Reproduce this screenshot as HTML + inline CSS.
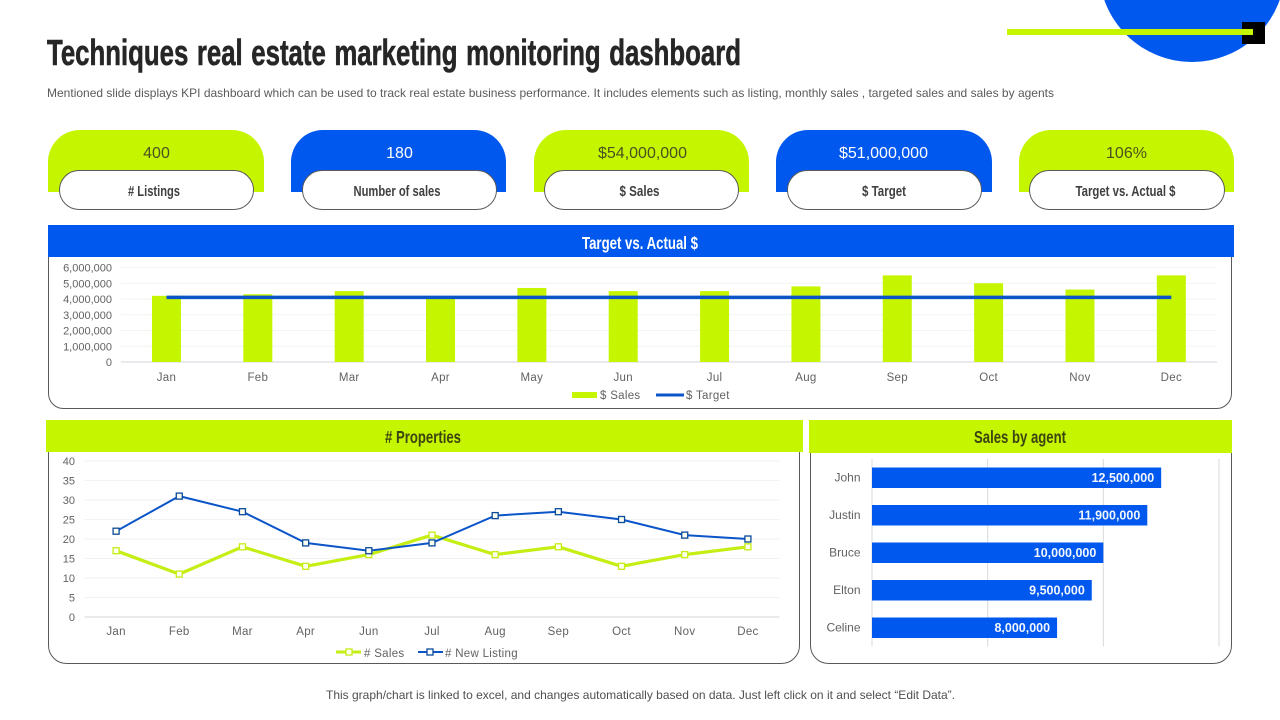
<!DOCTYPE html>
<html lang="en">
<head>
<meta charset="utf-8">
<title>Techniques real estate marketing monitoring dashboard</title>
<style>
html,body{margin:0;padding:0;background:#fff;width:1280px;height:720px;overflow:hidden}
svg{display:block;font-family:"Liberation Sans",Arial,sans-serif}
.cond{font-weight:bold;text-anchor:middle}
.tick{font-size:11.5px;fill:#626262;letter-spacing:.3px}
.ytick{font-size:11px;fill:#626262}
.val{font-size:16px;text-anchor:middle}
</style>
</head>
<body>
<svg id="dash" width="1280" height="720" viewBox="0 0 1280 720" xmlns="http://www.w3.org/2000/svg">
  <rect width="1280" height="720" fill="#fff"/>
  <circle cx="1192" cy="-31" r="93" fill="#0058ee"/>
  <rect x="1242" y="22" width="23" height="22" fill="#000"/>
  <rect x="1007" y="29" width="246" height="6" fill="#c6f500"/>

  <text x="47" y="65" font-size="36" font-weight="bold" fill="#262626" stroke="#262626" stroke-width=".6" word-spacing="2" textLength="694" lengthAdjust="spacingAndGlyphs">Techniques real estate marketing monitoring dashboard</text>
  <text x="47" y="97" font-size="12" fill="#5a5a5a" textLength="1007" lengthAdjust="spacingAndGlyphs">Mentioned slide displays KPI dashboard which can be used to track real estate business performance. It includes elements such as listing, monthly sales , targeted sales and sales by agents</text>

  <g>
    <path d="M48 192V162a32 32 0 0 1 32-32H232a32 32 0 0 1 32 32V192Z" fill="#c6f500"/>
    <text class="val" x="156.500" y="158" fill="#4a5220">400</text>
    <rect x="59.500" y="170.500" width="194" height="39" rx="19.500" fill="#fff" stroke="#595959"/>
    <text class="cond" x="154" y="196" font-size="15" fill="#404040" textLength="52" lengthAdjust="spacingAndGlyphs"># Listings</text>
  </g>
  <g>
    <path d="M291 192V162a32 32 0 0 1 32-32H474a32 32 0 0 1 32 32V192Z" fill="#0058ee"/>
    <text class="val" x="399.500" y="158" fill="#fff">180</text>
    <rect x="302.500" y="170.500" width="194" height="39" rx="19.500" fill="#fff" stroke="#595959"/>
    <text class="cond" x="397" y="196" font-size="15" fill="#404040" textLength="87" lengthAdjust="spacingAndGlyphs">Number of sales</text>
  </g>
  <g>
    <path d="M534 192V162a32 32 0 0 1 32-32H717a32 32 0 0 1 32 32V192Z" fill="#c6f500"/>
    <text class="val" x="642.500" y="158" fill="#4a5220">$54,000,000</text>
    <rect x="544.500" y="170.500" width="194" height="39" rx="19.500" fill="#fff" stroke="#595959"/>
    <text class="cond" x="639.500" y="196" font-size="15" fill="#404040" textLength="40" lengthAdjust="spacingAndGlyphs">$ Sales</text>
  </g>
  <g>
    <path d="M776 192V162a32 32 0 0 1 32-32H960a32 32 0 0 1 32 32V192Z" fill="#0058ee"/>
    <text class="val" x="883.500" y="158" fill="#fff">$51,000,000</text>
    <rect x="787.500" y="170.500" width="194" height="39" rx="19.500" fill="#fff" stroke="#595959"/>
    <text class="cond" x="884" y="196" font-size="15" fill="#404040" textLength="44" lengthAdjust="spacingAndGlyphs">$ Target</text>
  </g>
  <g>
    <path d="M1019 192V162a32 32 0 0 1 32-32H1202a32 32 0 0 1 32 32V192Z" fill="#c6f500"/>
    <text class="val" x="1126.500" y="158" fill="#4a5220">106%</text>
    <rect x="1029.500" y="170.500" width="195" height="39" rx="19.500" fill="#fff" stroke="#595959"/>
    <text class="cond" x="1125.500" y="196" font-size="15" fill="#404040" textLength="100" lengthAdjust="spacingAndGlyphs">Target vs. Actual $</text>
  </g>

  <rect x="48.500" y="235.500" width="1183" height="173" rx="15" fill="#fff" stroke="#595959"/>
  <rect x="48" y="225" width="1186" height="32" fill="#0058ee"/>
  <text class="cond" x="640" y="249" font-size="17.500" fill="#fff" textLength="116" lengthAdjust="spacingAndGlyphs">Target vs. Actual $</text>

  <rect x="48.500" y="435.500" width="751" height="228" rx="18" fill="#fff" stroke="#595959"/>
  <rect x="46" y="420" width="757" height="32" fill="#c6f500"/>
  <text class="cond" x="423" y="443" font-size="17.500" fill="#3c4412" textLength="76" lengthAdjust="spacingAndGlyphs"># Properties</text>

  <rect x="810.500" y="435.500" width="421" height="228" rx="18" fill="#fff" stroke="#595959"/>
  <rect x="809" y="420" width="423" height="33" fill="#c6f500"/>
  <text class="cond" x="1020" y="443" font-size="17.500" fill="#3c4412" textLength="92" lengthAdjust="spacingAndGlyphs">Sales by agent</text>

  <g id="target-chart"></g>
  <g id="properties-chart"></g>
  <g id="agent-chart"></g>

  <text x="326" y="699" font-size="12" fill="#505050" textLength="629" lengthAdjust="spacingAndGlyphs">This graph/chart is linked to excel, and changes automatically based on data. Just left click on it and select “Edit Data”.</text>
</svg>

<script>
var monthsFull = ['Jan','Feb','Mar','Apr','May','Jun','Jul','Aug','Sep','Oct','Nov','Dec'];
var salesDollars = [4200000,4300000,4500000,4100000,4700000,4500000,4500000,4800000,5500000,5000000,4600000,5500000];
var targetDollars = [4100000,4100000,4100000,4100000,4100000,4100000,4100000,4100000,4100000,4100000,4100000,4100000];
var dollarTicks = [0,1000000,2000000,3000000,4000000,5000000,6000000];
var dollarTickLabels = ['0','1,000,000','2,000,000','3,000,000','4,000,000','5,000,000','6,000,000'];

var propertyMonths = ['Jan','Feb','Mar','Apr','Jun','Jul','Aug','Sep','Oct','Nov','Dec'];
var propertySales = [17,11,18,13,16,21,16,18,13,16,18];
var propertyNewListing = [22,31,27,19,17,19,26,27,25,21,20];
var propertyTicks = [0,5,10,15,20,25,30,35,40];
var propertyTickLabels = ['0','5','10','15','20','25','30','35','40'];

var agentNames = ['John','Justin','Bruce','Elton','Celine'];
var agentSales = [12500000,11900000,10000000,9500000,8000000];
var agentValueLabels = ['12,500,000','11,900,000','10,000,000','9,500,000','8,000,000'];
var agentTicks = [0,5000000,10000000,15000000];

var GREEN = '#c6f500', BLUE = '#0058ee', LINEBLUE = '#0b55c8', LINEGREEN = '#c4ee14';
var NS = 'http://www.w3.org/2000/svg';

function el(parent, tag, attrs, text) {
  var n = document.createElementNS(NS, tag);
  for (var k in attrs) n.setAttribute(k, attrs[k]);
  if (text !== undefined) n.textContent = text;
  parent.appendChild(n);
  return n;
}

/* Target vs. actual chart */
(function () {
  var g = document.getElementById('target-chart');
  var left = 120.8, right = 1217, y0 = 362, yTop = 267.5, maxV = 6000000;
  function x(i) { return left + (right - left) * (i + 0.5) / monthsFull.length; }
  function y(v) { return y0 - (y0 - yTop) * v / maxV; }

  dollarTicks.forEach(function (t, i) {
    var line = el(g, 'line', {x1: left, x2: right, y1: y(t), y2: y(t), stroke: i === 0 ? '#d4d4dc' : '#f0f5f1', 'stroke-width': 1});
    
    
    var label = el(g, 'text', {x: 112, y: y(t) + 4, 'text-anchor': 'end', 'class': 'ytick'}, dollarTickLabels[i]);
    
    
  });

  monthsFull.forEach(function (m, i) {
    var bar = el(g, 'rect', {x: x(i) - 14.5, y: y(salesDollars[i]), width: 29, height: y0 - y(salesDollars[i]), fill: GREEN});
    
    
    var label = el(g, 'text', {x: x(i), y: 381, 'text-anchor': 'middle', 'class': 'tick'}, m);
    
    
  });

  var pts = targetDollars.map(function (v, i) { return x(i) + ',' + y(v); }).join(' ');
  var target = el(g, 'polyline', {points: pts, fill: 'none', stroke: LINEBLUE, 'stroke-width': 3.5});
  
  

  var k1 = el(g, 'rect', {x: 572, y: 392, width: 25, height: 6, fill: GREEN});
  
  
  var t1 = el(g, 'text', {x: 600, y: 399, 'class': 'tick'}, '$ Sales');
  
  
  var k2 = el(g, 'line', {x1: 656, x2: 684, y1: 395, y2: 395, stroke: LINEBLUE, 'stroke-width': 3});
  
  
  var t2 = el(g, 'text', {x: 686, y: 399, 'class': 'tick'}, '$ Target');
  
  
})();

/* Properties line chart */
(function () {
  var g = document.getElementById('properties-chart');
  var left = 84.5, right = 779.5, y0 = 617, yTop = 461, maxV = 40;
  function x(i) { return left + (right - left) * (i + 0.5) / propertyMonths.length; }
  function y(v) { return y0 - (y0 - yTop) * v / maxV; }

  propertyTicks.forEach(function (t, i) {
    var line = el(g, 'line', {x1: left, x2: right, y1: y(t), y2: y(t), stroke: i === 0 ? '#d4d4d4' : '#f2f2f2', 'stroke-width': 1});
    
    
    var label = el(g, 'text', {x: 75, y: y(t) + 4, 'text-anchor': 'end', 'class': 'ytick'}, propertyTickLabels[i]);
    
    
  });

  propertyMonths.forEach(function (m, i) {
    var label = el(g, 'text', {x: x(i), y: 635, 'text-anchor': 'middle', 'class': 'tick'}, m);
    
    
  });

  function series(values, color, width, markerStroke, name) {
    var pts = values.map(function (v, i) { return x(i) + ',' + y(v); }).join(' ');
    var line = el(g, 'polyline', {points: pts, fill: 'none', stroke: color, 'stroke-width': width});
    
    
    values.forEach(function (v, i) {
      var p = el(g, 'rect', {x: x(i) - 3, y: y(v) - 3, width: 6, height: 6, fill: '#fdfff0', stroke: markerStroke, 'stroke-width': 1.3});
      
      
    });
  }
  series(propertySales, LINEGREEN, 3.2, LINEGREEN, 'property-sales');
  series(propertyNewListing, LINEBLUE, 2, '#0a4a9a', 'property-new-listing');

  var k1 = el(g, 'line', {x1: 336, x2: 361, y1: 652, y2: 652, stroke: LINEGREEN, 'stroke-width': 3});
  
  
  var m1 = el(g, 'rect', {x: 346, y: 649, width: 6, height: 6, fill: '#fdfff0', stroke: LINEGREEN, 'stroke-width': 1.3});
  
  
  var t1 = el(g, 'text', {x: 364, y: 657, 'class': 'tick'}, '# Sales');
  
  
  var k2 = el(g, 'line', {x1: 418, x2: 443, y1: 652, y2: 652, stroke: LINEBLUE, 'stroke-width': 2});
  
  
  var m2 = el(g, 'rect', {x: 427, y: 649, width: 6, height: 6, fill: '#fff', stroke: '#0a4a9a', 'stroke-width': 1.3});
  
  
  var t2 = el(g, 'text', {x: 445, y: 657, 'class': 'tick'}, '# New Listing');
  
  
})();

/* Sales by agent chart */
(function () {
  var g = document.getElementById('agent-chart');
  var left = 872, pxRight = 1219, yTop = 459, yBottom = 646.5, maxV = 15000000;
  function x(v) { return left + (pxRight - left) * v / maxV; }
  function yBand(i) { return yTop + (yBottom - yTop) * (i + 0.5) / agentNames.length; }

  agentTicks.forEach(function (t) {
    var line = el(g, 'line', {x1: x(t), x2: x(t), y1: yTop, y2: yBottom, stroke: '#d9d9d9', 'stroke-width': 1});
    
    
  });

  agentNames.forEach(function (name, i) {
    var bar = el(g, 'rect', {x: left, y: yBand(i) - 10.25, width: x(agentSales[i]) - left, height: 20.5, fill: BLUE});
    
    
    var nameLabel = el(g, 'text', {x: 860.5, y: yBand(i) + 3.5, 'text-anchor': 'end', 'class': 'ytick', style: 'font-size:12px'}, name);
    
    
    var value = el(g, 'text', {x: x(agentSales[i]) - 7, y: yBand(i) + 4, 'text-anchor': 'end', 'font-size': 12.5, 'font-weight': 'bold', fill: '#f2f6ff'}, agentValueLabels[i]);
    
    
  });
})();
</script>
</body>
</html>
